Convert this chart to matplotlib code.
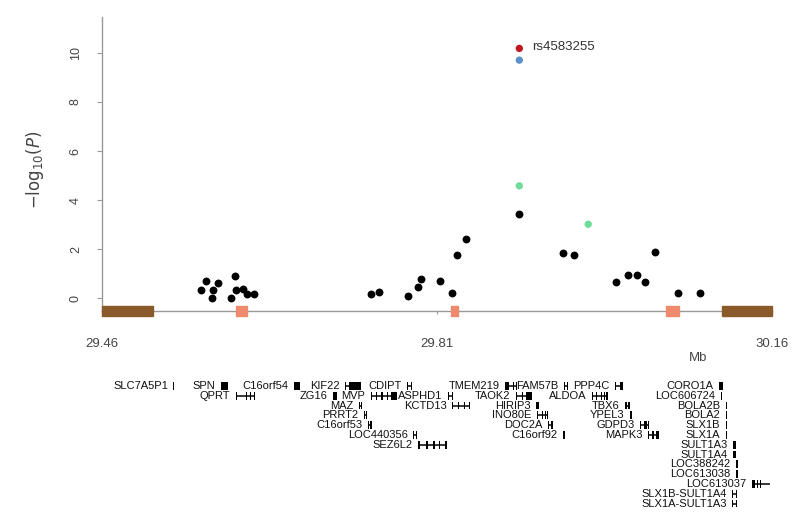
import matplotlib.pyplot as plt
from matplotlib.patches import Rectangle

# association results (Mb, -log10 P)
snp_pos = [29.563, 29.569, 29.575, 29.576, 29.581, 29.595, 29.599, 29.600, 29.607,
           29.611, 29.619, 29.741, 29.749, 29.780, 29.790, 29.793, 29.813, 29.826,
           29.831, 29.840, 29.896, 29.942, 29.953, 29.997, 30.010, 30.019, 30.027,
           30.038, 30.062, 30.085]
snp_logp = [0.33, 0.68, 0.01, 0.34, 0.60, 0.01, 0.88, 0.33, 0.35,
            0.16, 0.16, 0.15, 0.26, 0.08, 0.44, 0.78, 0.71, 0.22,
            1.76, 2.41, 3.43, 1.82, 1.77, 0.65, 0.94, 0.94, 0.65,
            1.88, 0.22, 0.19]

hl_pos = [29.896, 29.896, 29.896, 29.968]
hl_logp = [10.19, 9.71, 4.58, 3.01]
hl_color = ['#c0161e', '#5b93c9', '#6fdc9a', '#6fdc9a']
top_snp = 'rs4583255'

# blocks on the axis line
blk_start = [29.46, 29.600, 29.8247, 30.049, 30.108]
blk_end = [29.513, 29.611, 29.832, 30.063, 30.16]
blk_color = ['#8b5a2b', '#f08a6c', '#f08a6c', '#f08a6c', '#8b5a2b']

xticks = [29.46, 29.81, 30.16]
yticks = [0, 2, 4, 6, 8, 10]

# gene track
gene_names = ['SLC7A5P1', 'SPN', 'C16orf54', 'KIF22', 'CDIPT', 'TMEM219', 'FAM57B', 'PPP4C', 'CORO1A',
              'QPRT', 'ZG16', 'MVP', 'ASPHD1', 'TAOK2', 'ALDOA', 'LOC606724',
              'MAZ', 'KCTD13', 'HIRIP3', 'TBX6', 'BOLA2B',
              'PRRT2', 'INO80E', 'YPEL3', 'BOLA2',
              'C16orf53', 'DOC2A', 'GDPD3', 'SLX1B',
              'LOC440356', 'C16orf92', 'MAPK3', 'SLX1A',
              'SEZ6L2', 'SULT1A3', 'SULT1A4', 'LOC388242', 'LOC613038', 'LOC613037',
              'SLX1B-SULT1A4', 'SLX1A-SULT1A3']
gene_rows = [0, 0, 0, 0, 0, 0, 0, 0, 0,
             1, 1, 1, 1, 1, 1, 1,
             2, 2, 2, 2, 2,
             3, 3, 3, 3,
             4, 4, 4, 4,
             5, 5, 5, 5,
             6, 6, 7, 8, 9, 10,
             11, 12]
gene_exons = [
    [(29.5347, 29.5357)],
    [(29.5843, 29.5917)],
    [(29.6606, 29.6669)],
    [(29.7139, 29.7147), (29.7185, 29.7306)],
    [(29.7787, 29.7800), (29.7825, 29.7839)],
    [(29.8811, 29.8850), (29.8890, 29.8900), (29.8925, 29.8936)],
    [(29.9428, 29.9440), (29.9455, 29.9469)],
    [(29.9960, 29.9975), (30.0015, 30.0044)],
    [(30.1047, 30.1089)],
    [(29.6000, 29.6010), (29.6100, 29.6110), (29.6150, 29.6160), (29.6189, 29.6199)],
    [(29.7014, 29.7056)],
    [(29.7411, 29.7420), (29.7460, 29.7470), (29.7520, 29.7535), (29.7580, 29.7590), (29.7620, 29.7683)],
    [(29.8216, 29.8226), (29.8258, 29.8268)],
    [(29.8926, 29.8935), (29.8990, 29.9000), (29.9030, 29.9093)],
    [(29.9720, 29.9730), (29.9765, 29.9775), (29.9810, 29.9820), (29.9840, 29.9860), (29.9870, 29.9887)],
    [(30.1068, 30.1078)],
    [(29.7286, 29.7297), (29.7306, 29.7317)],
    [(29.8257, 29.8267), (29.8320, 29.8330), (29.8380, 29.8390), (29.8435, 29.8445)],
    [(29.9135, 29.9166)],
    [(30.0065, 30.0080), (30.0100, 30.0117)],
    [(30.1115, 30.1128)],
    [(29.7337, 29.7345), (29.7355, 29.7360)],
    [(29.9145, 29.9155), (29.9200, 29.9210), (29.9230, 29.9240), (29.9250, 29.9260)],
    [(30.0117, 30.0138)],
    [(30.1115, 30.1128)],
    [(29.7380, 29.7390), (29.7400, 29.7421)],
    [(29.9260, 29.9275), (29.9295, 29.9313)],
    [(30.0222, 30.0232), (30.0260, 30.0290), (30.0300, 30.0316)],
    [(30.1115, 30.1125)],
    [(29.7850, 29.7860), (29.7882, 29.7892)],
    [(29.9417, 29.9438)],
    [(30.0305, 30.0315), (30.0350, 30.0365), (30.0385, 30.0420)],
    [(30.1115, 30.1125)],
    [(29.7902, 29.7925), (29.7990, 29.8005), (29.8060, 29.8075), (29.8120, 29.8130), (29.8180, 29.8205)],
    [(30.1194, 30.1225)],
    [(30.1194, 30.1225)],
    [(30.1225, 30.1246)],
    [(30.1225, 30.1246)],
    [(30.1392, 30.1420), (30.1440, 30.1450), (30.1470, 30.1480)],
    [(30.1183, 30.1193), (30.1225, 30.1235)],
    [(30.1183, 30.1193), (30.1225, 30.1235)],
]
gene_ends = [max(e for s, e in ex) for ex in gene_exons]
gene_ends[38] = 30.158  # LOC613037 tail

fig = plt.figure(figsize=(8, 5.19), dpi=100)
ax = fig.add_axes([0.1275, 0.4008, 0.8375, 0.5664])

ax.scatter(snp_pos, snp_logp, s=32, color='black', linewidths=0, zorder=4)
ax.scatter(hl_pos, hl_logp, s=28, c=hl_color, linewidths=0, zorder=4)
ax.text(hl_pos[0] + 0.0135, hl_logp[0] + 0.05, top_snp, fontsize=9.5,
        color='#333333', va='center', family='Liberation Sans')

ybase = -0.53
for s, e, c in zip(blk_start, blk_end, blk_color):
    h = 0.38 if c == '#8b5a2b' else 0.42
    ax.add_patch(Rectangle((s, ybase - h / 2), e - s, h, color=c,
                           zorder=3, clip_on=False))

ax.set_xlim(29.46, 30.16)
ax.set_ylim(ybase, 11.47)
for sp in ['top', 'right']:
    ax.spines[sp].set_visible(False)
for sp in ['left', 'bottom']:
    ax.spines[sp].set_color('#999999')
    ax.spines[sp].set_linewidth(1)

ax.set_yticks(yticks)
ax.set_yticklabels([str(v) for v in yticks], rotation=90, va='center',
                   fontsize=9, color='#444444', family='Liberation Sans')
ax.tick_params(axis='y', length=3.5, color='#999999', pad=11)
ax.set_xticks(xticks)
ax.set_xticklabels([f'{v:.2f}' for v in xticks], fontsize=9.5,
                   color='#444444', family='Liberation Sans')
ax.tick_params(axis='x', length=2.5, color='#999999', pad=17)

fig.text(35 / 800, 1 - 170 / 519, r'$-\mathrm{log}_{10}(P)$', rotation=90,
         ha='center', va='center', fontsize=12, color='#444444')
fig.text(698 / 800, 1 - 358 / 519, 'Mb', ha='center', va='center',
         fontsize=9.5, color='#444444', family='Liberation Sans')

# gene track
gx = fig.add_axes([0.1275, 0.0146, 0.8375, 0.257])
gx.set_xlim(29.46, 30.16)
gx.set_ylim(12.8, -0.8)
gx.axis('off')
for name, row, ex, gend in zip(gene_names, gene_rows, gene_exons, gene_ends):
    gstart = ex[0][0]
    gx.plot([gstart, gend], [row, row], color='black', lw=1.1, solid_capstyle='butt')
    for s, e in ex:
        gx.add_patch(Rectangle((s, row - 0.4), max(e - s, 0.0009), 0.8,
                               color='black', lw=0))
    gx.annotate(name, (gstart, row), xytext=(-4, 0), textcoords='offset points',
                ha='right', va='center', fontsize=8, family='Liberation Sans',
                color='#111111')

fig.savefig('out.png', dpi=100)
